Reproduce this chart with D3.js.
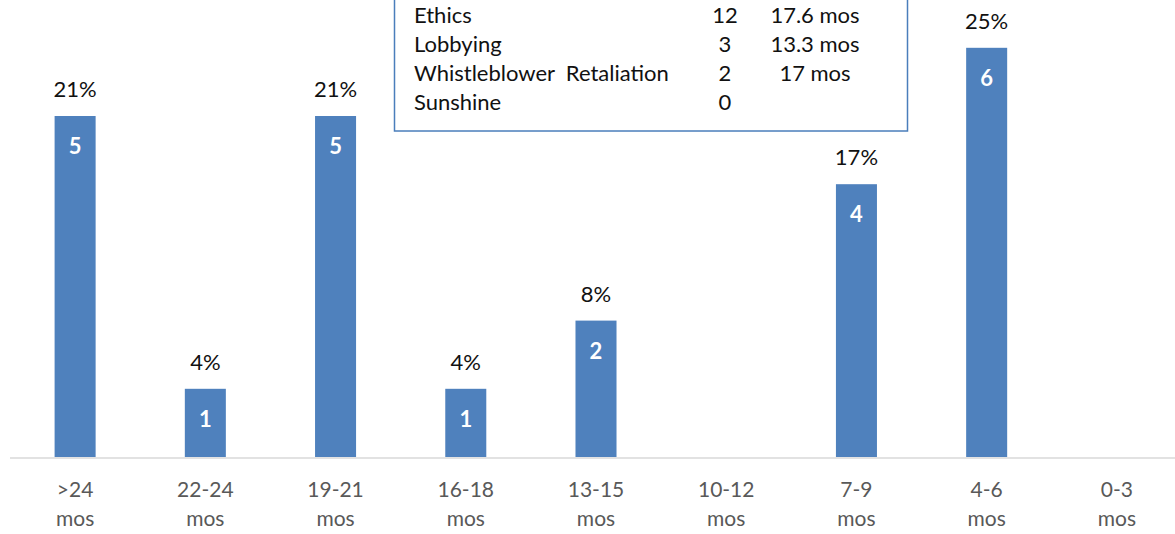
<!DOCTYPE html>
<html>
<head>
<meta charset="utf-8">
<script src="https://cdn.jsdelivr.net/npm/d3@7"></script>
<style>
  html, body { margin: 0; padding: 0; background: #ffffff; }
  svg { display: block; font-family: Lato, "Open Sans", "Noto Sans", sans-serif; }
</style>
</head>
<body>
<svg id="chart" width="1175" height="534"></svg>
<script>
// Complaint resolution time buckets and case counts
const categories = [">24 mos", "22-24 mos", "19-21 mos", "16-18 mos", "13-15 mos", "10-12 mos", "7-9 mos", "4-6 mos", "0-3 mos"];
const counts = [5, 1, 5, 1, 2, 0, 4, 6, 0];

// Summary table by program type
const legendNames = ["Ethics", "Lobbying", "Whistleblower\u00a0 Retaliation", "Sunshine"];
const legendCounts = ["12", "3", "2", "0"];
const legendAvg = ["17.6 mos", "13.3 mos", "17 mos", ""];

const svg = d3.select("#chart");
const W = 1175;
const baseY = 457;

const x = d3.scaleBand().domain(categories).range([10, 1182]).paddingInner(0.685).paddingOuter(0.3425);
const y = d3.scaleLinear().domain([0, 5]).range([baseY, baseY - 341]);

const total = d3.sum(counts);
const data = categories.map((c, i) => ({ cat: c, v: counts[i] }));
const shown = data.filter(d => d.v > 0);
const cx = d => x(d) + x.bandwidth() / 2;

// Bars
svg.append("g").selectAll("rect").data(shown).join("rect")
  .attr("x", d => x(d.cat))
  .attr("y", d => y(d.v))
  .attr("width", x.bandwidth())
  .attr("height", d => y(0) - y(d.v))
  .attr("fill", "#4f81bd");

// Baseline
svg.append("line")
  .attr("x1", 10).attr("x2", W)
  .attr("y1", baseY + 1).attr("y2", baseY + 1)
  .attr("stroke", "#d9d9d9").attr("stroke-width", 1.5);

// Percentage labels above bars
svg.append("g").selectAll("text").data(shown).join("text")
  .attr("x", d => cx(d.cat))
  .attr("y", d => y(d.v) - 19)
  .attr("text-anchor", "middle")
  .attr("font-size", 22)
  .attr("fill", "#111")
  .text(d => Math.round(d.v / total * 100) + "%");

// Count labels inside bars
svg.append("g").selectAll("text").data(shown).join("text")
  .attr("x", d => cx(d.cat))
  .attr("y", d => y(d.v) + 38)
  .attr("text-anchor", "middle")
  .attr("font-size", 22)
  .attr("font-weight", "bold")
  .attr("fill", "#ffffff")
  .text(d => d.v);

// Category labels (two lines)
svg.append("g").selectAll("text").data(categories).join("text")
  .attr("text-anchor", "middle")
  .attr("font-size", 21)
  .attr("fill", "#595959")
  .each(function (d) {
    const t = d3.select(this);
    d.split(" ").forEach((p, i) => {
      t.append("tspan").attr("x", cx(d)).attr("y", 497 + i * 29).text(p);
    });
  });

// Summary box
const box = svg.append("g");
box.append("rect")
  .attr("x", 394.5).attr("y", -10)
  .attr("width", 513).attr("height", 141)
  .attr("fill", "#ffffff")
  .attr("stroke", "#4a7ebb").attr("stroke-width", 1.5);
legendNames.forEach((n, i) => {
  const yy = 22.5 + i * 29.3;
  box.append("text").attr("x", 414).attr("y", yy).attr("font-size", 22).attr("fill", "#111").text(n);
  box.append("text").attr("x", 725).attr("y", yy).attr("text-anchor", "middle").attr("font-size", 22).attr("fill", "#111").text(legendCounts[i]);
  box.append("text").attr("x", 815).attr("y", yy).attr("text-anchor", "middle").attr("font-size", 22).attr("fill", "#111").text(legendAvg[i]);
});
</script>
</body>
</html>
